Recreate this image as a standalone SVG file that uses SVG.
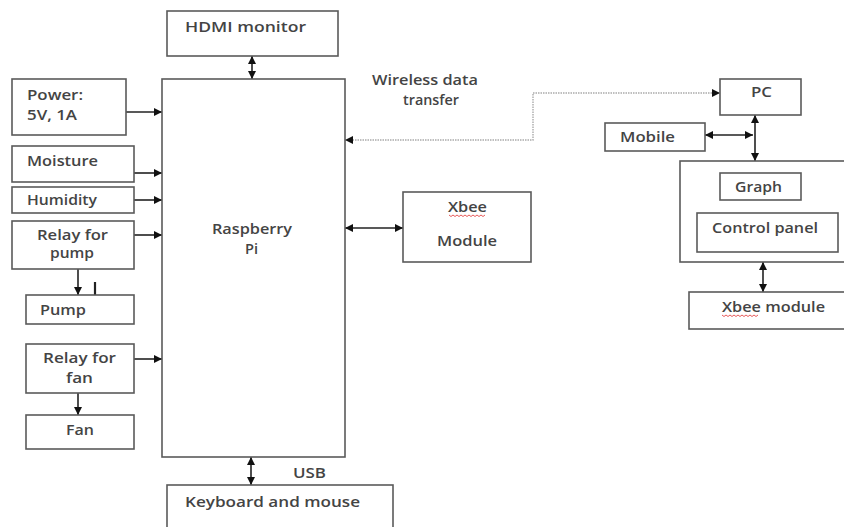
<svg xmlns="http://www.w3.org/2000/svg" width="844" height="527" viewBox="0 0 844 527">
<style>
.box{fill:#fff;stroke:#5a5a5a;stroke-width:1.6}
.t{font-family:"Open Sans","Liberation Sans",sans-serif;font-size:14px;fill:#444;font-weight:600}
.c{stroke:#222;stroke-width:1.6;fill:none}
.w{stroke:#aaa;stroke-width:1.4;fill:none;stroke-dasharray:1.5 1}
.sq{stroke:#e03030;stroke-width:0.8;fill:none}
</style>
<defs>
<marker id="ah" viewBox="0 0 10 10" refX="10" refY="5" markerWidth="8" markerHeight="8" markerUnits="userSpaceOnUse" orient="auto-start-reverse">
<path d="M0,0 L10,5 L0,10 z" fill="#111"/>
</marker>
</defs>
<rect width="844" height="527" fill="#fff"/>

<g id="connectors">
<line class="c" x1="252" y1="56" x2="252" y2="79" marker-start="url(#ah)" marker-end="url(#ah)"/>
<line class="c" x1="126" y1="112" x2="162" y2="112" marker-end="url(#ah)"/>
<line class="c" x1="134" y1="173" x2="162" y2="173" marker-end="url(#ah)"/>
<line class="c" x1="134" y1="200" x2="162" y2="200" marker-end="url(#ah)"/>
<line class="c" x1="134" y1="235" x2="162" y2="235" marker-end="url(#ah)"/>
<line class="c" x1="134" y1="359" x2="162" y2="359" marker-end="url(#ah)"/>
<line class="c" x1="78" y1="269" x2="78" y2="295" marker-end="url(#ah)"/>
<line class="c" x1="95" y1="282" x2="95" y2="297" style="stroke-width:2.2"/>
<line class="c" x1="78" y1="393" x2="78" y2="415" marker-end="url(#ah)"/>
<line class="c" x1="251" y1="457" x2="251" y2="485" marker-start="url(#ah)" marker-end="url(#ah)"/>
<line class="c" x1="345" y1="228" x2="403" y2="228" marker-start="url(#ah)" marker-end="url(#ah)"/>
<polyline class="w" points="345,140 533,140 533,93 720,93" marker-start="url(#ah)" marker-end="url(#ah)"/>
<line class="c" x1="705" y1="135" x2="753" y2="135" marker-start="url(#ah)" marker-end="url(#ah)"/>
<line class="c" x1="755" y1="115" x2="755" y2="161" marker-start="url(#ah)" marker-end="url(#ah)"/>
<line class="c" x1="763" y1="262" x2="763" y2="292" marker-start="url(#ah)" marker-end="url(#ah)"/>
</g>

<g id="hdmi"><rect class="box" x="167" y="11" width="171" height="45"/><text class="t" x="185" y="32" textLength="121" lengthAdjust="spacingAndGlyphs">HDMI monitor</text></g>
<g id="rpi"><rect class="box" x="162" y="79" width="183" height="378"/><text class="t" x="212" y="234" textLength="80" lengthAdjust="spacingAndGlyphs">Raspberry</text><text class="t" x="245" y="254" textLength="13" lengthAdjust="spacingAndGlyphs">Pi</text></g>
<g id="power"><rect class="box" x="12" y="79" width="114" height="56"/><text class="t" x="27" y="100" textLength="56" lengthAdjust="spacingAndGlyphs">Power:</text><text class="t" x="27" y="120" textLength="50" lengthAdjust="spacingAndGlyphs">5V, 1A</text></g>
<g id="moisture"><rect class="box" x="12" y="146" width="122" height="36"/><text class="t" x="27" y="166" textLength="71" lengthAdjust="spacingAndGlyphs">Moisture</text></g>
<g id="humidity"><rect class="box" x="12" y="187" width="122" height="26"/><text class="t" x="27" y="205" textLength="70" lengthAdjust="spacingAndGlyphs">Humidity</text></g>
<g id="relaypump"><rect class="box" x="12" y="221" width="122" height="48"/><text class="t" x="37" y="240" textLength="71" lengthAdjust="spacingAndGlyphs">Relay for</text><text class="t" x="50" y="258" textLength="44" lengthAdjust="spacingAndGlyphs">pump</text></g>
<g id="pump"><rect class="box" x="26" y="295" width="108" height="29"/><text class="t" x="40" y="315" textLength="46" lengthAdjust="spacingAndGlyphs">Pump</text></g>
<g id="relayfan"><rect class="box" x="26" y="344" width="108" height="49"/><text class="t" x="43" y="363" textLength="73" lengthAdjust="spacingAndGlyphs">Relay for</text><text class="t" x="66" y="383" textLength="27" lengthAdjust="spacingAndGlyphs">fan</text></g>
<g id="fan"><rect class="box" x="26" y="415" width="108" height="34"/><text class="t" x="66" y="435" textLength="28" lengthAdjust="spacingAndGlyphs">Fan</text></g>
<g id="usb-label"><text class="t" x="293" y="478" textLength="33" lengthAdjust="spacingAndGlyphs">USB</text></g>
<g id="keyboard"><rect class="box" x="167" y="485" width="226" height="50"/><text class="t" x="185" y="507" textLength="175" lengthAdjust="spacingAndGlyphs">Keyboard and mouse</text></g>
<g id="wireless-label"><text class="t" x="372" y="85" textLength="106" lengthAdjust="spacingAndGlyphs">Wireless data</text><text class="t" x="403" y="105" textLength="56" lengthAdjust="spacingAndGlyphs">transfer</text></g>
<g id="xbee1"><rect class="box" x="403" y="192" width="128" height="70"/><text class="t" x="448" y="212" textLength="39" lengthAdjust="spacingAndGlyphs">Xbee</text><path class="sq" d="M449,215 l2,1.5 l2,-1.5 l2,1.5 l2,-1.5 l2,1.5 l2,-1.5 l2,1.5 l2,-1.5 l2,1.5 l2,-1.5 l2,1.5 l2,-1.5 l2,1.5 l2,-1.5 l2,1.5 l2,-1.5 l2,1.5 l2,-1.5"/><text class="t" x="437" y="246" textLength="60" lengthAdjust="spacingAndGlyphs">Module</text></g>
<g id="pc"><rect class="box" x="720" y="79" width="81" height="36"/><text class="t" x="751" y="97" textLength="21" lengthAdjust="spacingAndGlyphs">PC</text></g>
<g id="mobile"><rect class="box" x="605" y="123" width="100" height="28"/><text class="t" x="620" y="142" textLength="55" lengthAdjust="spacingAndGlyphs">Mobile</text></g>
<g id="panel"><rect class="box" x="680" y="161" width="170" height="101"/></g>
<g id="graph"><rect class="box" x="720" y="173" width="81" height="27"/><text class="t" x="735" y="192" textLength="47" lengthAdjust="spacingAndGlyphs">Graph</text></g>
<g id="control"><rect class="box" x="697" y="213" width="141" height="39"/><text class="t" x="712" y="233" textLength="106" lengthAdjust="spacingAndGlyphs">Control panel</text></g>
<g id="xbee2"><rect class="box" x="689" y="292" width="160" height="37"/><text class="t" x="722" y="312" textLength="103" lengthAdjust="spacingAndGlyphs">Xbee module</text><path class="sq" d="M722,315 l2,1.5 l2,-1.5 l2,1.5 l2,-1.5 l2,1.5 l2,-1.5 l2,1.5 l2,-1.5 l2,1.5 l2,-1.5 l2,1.5 l2,-1.5 l2,1.5 l2,-1.5 l2,1.5 l2,-1.5 l2,1.5 l2,-1.5"/></g>
</svg>
